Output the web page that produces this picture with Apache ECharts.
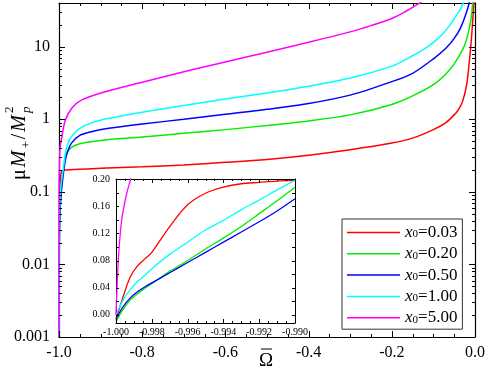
<!DOCTYPE html>
<html>
<head>
<meta charset="utf-8">
<script src="https://cdn.jsdelivr.net/npm/echarts@6/dist/echarts.min.js"></script>
<style>
  html, body { margin: 0; padding: 0; background: #fff; }
  #chart { width: 488px; height: 373px; }
</style>
</head>
<body>
<div id="chart"></div>
<script>
// main panel: Omega-bar vs mu*M+/Mp^2 (log scale)
const redW = [-1, -0.9996, -0.998, -0.996, -0.994, -0.99, -0.98, -0.95, -0.9, -0.8, -0.7, -0.6, -0.5, -0.4, -0.3, -0.2, -0.15, -0.1, -0.07, -0.05, -0.04, -0.03, -0.02, -0.014, -0.009, -0.005, -0.002]
const redV = [0.0005, 0.027, 0.092, 0.162, 0.188, 0.198, 0.2, 0.205, 0.212, 0.222, 0.235, 0.255, 0.28, 0.32, 0.38, 0.47, 0.55, 0.72, 0.9, 1.15, 1.35, 1.75, 3.0, 6, 12, 25, 45]

const greenW = [-1, -0.9996, -0.998, -0.995, -0.99, -0.985, -0.98, -0.97, -0.95, -0.9, -0.8, -0.7, -0.6, -0.5, -0.4, -0.3, -0.2, -0.15, -0.1, -0.07, -0.05, -0.035, -0.025, -0.018, -0.012, -0.008, -0.005]
const greenV = [0.0005, 0.008, 0.046, 0.097, 0.188, 0.29, 0.35, 0.41, 0.46, 0.51, 0.57, 0.64, 0.72, 0.82, 0.95, 1.15, 1.6, 2.1, 3.0, 4.2, 5.8, 8, 10.5, 14, 20, 28, 45]

const blueW = [-1, -0.9996, -0.998, -0.995, -0.99, -0.985, -0.98, -0.97, -0.95, -0.92, -0.88, -0.8, -0.7, -0.6, -0.5, -0.4, -0.3, -0.2, -0.15, -0.1, -0.07, -0.05, -0.035, -0.025, -0.018, -0.013]
const blueV = [0.0005, 0.012, 0.047, 0.092, 0.17, 0.27, 0.35, 0.47, 0.6, 0.68, 0.75, 0.86, 1.0, 1.17, 1.37, 1.65, 2.15, 3.3, 4.3, 6.8, 9.5, 13, 18, 25, 33, 42]

const cyanW = [-1, -0.9996, -0.998, -0.995, -0.99, -0.985, -0.98, -0.97, -0.95, -0.92, -0.88, -0.8, -0.7, -0.6, -0.5, -0.4, -0.3, -0.2, -0.15, -0.12, -0.1, -0.08, -0.06, -0.045, -0.035, -0.028, -0.022]
const cyanV = [0.0005, 0.02, 0.068, 0.125, 0.2, 0.33, 0.44, 0.58, 0.75, 0.9, 1.03, 1.25, 1.55, 1.9, 2.3, 2.85, 3.7, 5.4, 7.5, 9.5, 11.5, 14.5, 20, 27, 33, 40, 50]

const magentaW = [-1, -0.9999, -0.9994, -0.9976, -0.9935, -0.9855, -0.9694, -0.9453, -0.889, -0.8, -0.7, -0.6, -0.5, -0.4, -0.3, -0.25, -0.2, -0.165, -0.14, -0.12]
const magentaV = [0.0005, 0.08, 0.18, 0.4, 0.55, 0.95, 1.42, 1.85, 2.4, 3.24, 4.52, 6.17, 8.4, 11.5, 16, 19.5, 24.5, 31, 37.6, 45]

// inset: zoom on -1.000 .. -0.990 (linear)
const insetW = [-1.000, -0.9996, -0.9992, -0.9988, -0.9984, -0.998, -0.997, -0.996, -0.995, -0.994, -0.993, -0.992, -0.991, -0.990]
const insetRed = [-0.007, 0.027, 0.056, 0.072, 0.082, 0.092, 0.13, 0.162, 0.179, 0.188, 0.193, 0.195, 0.197, 0.198]
const insetGreen = [-0.010, 0.008, 0.022, 0.031, 0.039, 0.046, 0.064, 0.080, 0.097, 0.113, 0.130, 0.149, 0.168, 0.188]
const insetBlue = [-0.006, 0.012, 0.025, 0.034, 0.041, 0.047, 0.062, 0.077, 0.092, 0.107, 0.122, 0.137, 0.153, 0.171]
const insetCyan = [0.0, 0.022, 0.037, 0.049, 0.058, 0.068, 0.089, 0.107, 0.125, 0.139, 0.155, 0.169, 0.184, 0.198]
const insetMagentaW = [-1.0, -0.99987, -0.99968, -0.9994, -0.99918, -0.9990]
const insetMagentaV = [0.0, 0.081, 0.14, 0.179, 0.2, 0.22]

const names = ['x0=0.03', 'x0=0.20', 'x0=0.50', 'x0=1.00', 'x0=5.00']
const colors = ['#ff0000', '#00ee00', '#0000ff', '#00ffff', '#ff00ff']

const insetYLabels = [0, 0.04, 0.08, 0.12, 0.16, 0.2]

const serif = 'Liberation Serif'
const black = '#000'

// tick marks as [value, length]
const mainXTicks = []
for (let k = 0; k <= 20; k++) mainXTicks.push([-1 + k * 0.05, k % 4 ? 3 : 6])
const mainYTicks = []
for (let e = -3; e <= 1; e++) {
  for (let k = 1; k <= 9; k++) {
    const v = k * Math.pow(10, e)
    if (v < 39) mainYTicks.push([+v.toPrecision(3), k === 1 ? 6 : 3])
  }
}
const insetXTicks = []
for (let k = 0; k <= 20; k++) insetXTicks.push([-1 + k * 0.0005, k % 4 ? 2 : 4])
const insetYTicks = []
for (let k = 0; k <= 10; k++) insetYTicks.push([k * 0.02, 3])

const zip = (xs, ys) => xs.map((x, i) => [x, ys[i]])

const chart = echarts.init(document.getElementById('chart'))

function measure(str, size, style) {
  const ctx = document.createElement('canvas').getContext('2d')
  ctx.font = style + ' ' + size + 'px "' + serif + '"'
  return ctx.measureText(str).width
}

// y-axis title  mu M_+ / M_p^2, built piece by piece then rotated
const yParts = [
  { t: 'μ', size: 20, style: 'normal', dy: 0 },
  { t: 'M', size: 20, style: 'italic', dy: 0 },
  { t: '+', size: 13, style: 'normal', dy: 7 },
  { t: '/', size: 20, style: 'normal', dy: 0 },
  { t: 'M', size: 20, style: 'italic', dy: 0 },
  { t: 'p', size: 13, style: 'italic', dy: 7, stay: true },
  { t: '2', size: 13, style: 'normal', dy: -10 }
]
let cx = 0
const yTitle = []
yParts.forEach(p => {
  yTitle.push({
    type: 'text', x: cx, y: p.dy,
    style: { text: p.t, fontSize: p.size, fontStyle: p.style, fontFamily: serif, fill: black, align: 'left', verticalAlign: 'middle' }
  })
  if (!p.stay) cx += measure(p.t, p.size, p.style) + 2
})

function mainX(pos) {
  return {
    gridIndex: 0, type: 'value', min: -1, max: 0, interval: 0.2, position: pos,
    axisLine: { show: true, onZero: false, lineStyle: { color: black, width: 1.2 } },
    axisTick: { show: false },
    splitLine: { show: false },
    axisLabel: {
      show: pos === 'bottom', margin: 8, fontFamily: serif, fontSize: 16, color: black,
      formatter: v => Math.abs(v) < 1e-9 ? '0.0' : v.toFixed(1)
    }
  }
}
function mainYLog(pos) {
  return {
    gridIndex: 0, type: 'log', logBase: 10, min: 0.001, max: 40, position: pos,
    axisLine: { show: true, onZero: false, lineStyle: { color: black, width: 1.2 } },
    axisTick: { show: false },
    splitLine: { show: false },
    axisLabel: {
      show: pos === 'left', margin: 9, fontFamily: serif, fontSize: 16, color: black,
      showMaxLabel: false,
      formatter: v => String(+(+v).toPrecision(4))
    }
  }
}
function insetX(pos) {
  return {
    gridIndex: 1, type: 'value', min: -1, max: -0.99, interval: 0.002, position: pos,
    axisLine: { show: true, onZero: false, lineStyle: { color: black, width: 1 } },
    axisTick: { show: false },
    splitLine: { show: false },
    axisLabel: {
      show: pos === 'bottom', margin: 4, fontFamily: serif, fontSize: 10, color: black,
      formatter: v => v.toFixed(3)
    }
  }
}
function insetY(pos) {
  return {
    gridIndex: 1, type: 'value', min: -0.012, max: 0.2, position: pos,
    axisLine: { show: true, onZero: false, lineStyle: { color: black, width: 1 } },
    axisTick: { show: false },
    splitLine: { show: false },
    axisLabel: {
      show: pos === 'left', margin: 6, fontFamily: serif, fontSize: 10, color: black,
      customValues: insetYLabels,
      formatter: v => (+v).toFixed(2)
    }
  }
}

const mainData = [zip(redW, redV), zip(greenW, greenV), zip(blueW, blueV), zip(cyanW, cyanV), zip(magentaW, magentaV)]
const insetData = [zip(insetW, insetRed), zip(insetW, insetGreen), zip(insetW, insetBlue), zip(insetW, insetCyan), zip(insetMagentaW, insetMagentaV)]

const series = []
names.forEach((n, i) => {
  series.push({
    name: n, type: 'line', xAxisIndex: 0, yAxisIndex: 0, data: mainData[i],
    symbol: 'none', smooth: 0.3, color: colors[i],
    lineStyle: { color: colors[i], width: 1.5 }
  })
})
names.forEach((n, i) => {
  series.push({
    name: n, type: 'line', xAxisIndex: 2, yAxisIndex: 2, data: insetData[i],
    symbol: 'none', smooth: 0.3, color: colors[i],
    lineStyle: { color: colors[i], width: 1.3 }
  })
})

const titles = [
  { type: 'group', x: 20, y: 180, rotation: Math.PI / 2, children: yTitle },
  { type: 'text', x: 266, y: 361, style: { text: 'Ω', fontSize: 19, fontFamily: serif, fill: black, align: 'center', verticalAlign: 'middle' } },
  { type: 'line', shape: { x1: 261, y1: 349, x2: 272, y2: 349 }, style: { stroke: black, lineWidth: 1 } }
]

const option = {
  animation: false,
  backgroundColor: '#fff',
  grid: [
    { left: 59, top: 3, right: 13, bottom: 36 },
    { left: 116, top: 179, width: 179, height: 144 }
  ],
  xAxis: [mainX('bottom'), mainX('top'), insetX('bottom'), insetX('top')],
  yAxis: [mainYLog('left'), mainYLog('right'), insetY('left'), insetY('right')],
  legend: {
    orient: 'vertical', left: 342, top: 219,
    data: names, selectedMode: false,
    icon: 'rect', itemWidth: 53, itemHeight: 1.5, itemGap: 4.3,
    padding: [5, 5, 3, 5],
    borderColor: '#333', borderWidth: 1, backgroundColor: '#fff', borderRadius: 0,
    formatter: n => '{i|x}{s|0}{n|' + n.slice(2) + '}',
    textStyle: {
      color: black,
      rich: {
        i: { fontFamily: serif, fontStyle: 'italic', fontSize: 17, lineHeight: 15, verticalAlign: 'middle', color: black },
        s: { fontFamily: serif, fontSize: 11, lineHeight: 6, verticalAlign: 'bottom', color: black },
        n: { fontFamily: serif, fontSize: 17, lineHeight: 15, verticalAlign: 'middle', color: black }
      }
    }
  },
  graphic: titles,
  series: series
}

chart.setOption(option)

// inward tick marks, placed through the axes' own value-to-pixel conversion
const px = (xi, v) => chart.convertToPixel({ xAxisIndex: xi }, v)
const py = (yi, v) => chart.convertToPixel({ yAxisIndex: yi }, v)
const crisp = v => Math.round(v) + 0.5
const seg = (x1, y1, x2, y2) => ({ type: 'line', silent: true, z: 10, shape: { x1, y1, x2, y2 }, style: { stroke: black, lineWidth: 1 } })

const ticks = []
function xTicks(xi, yi, list, yLo, yHi) {
  const b = py(yi, yLo), t = py(yi, yHi)
  list.forEach(([v, len]) => {
    const x = crisp(px(xi, v))
    ticks.push(seg(x, b, x, b - len), seg(x, t, x, t + len))
  })
}
function yTicks(xi, yi, list, xLo, xHi) {
  const l = px(xi, xLo), r = px(xi, xHi)
  list.forEach(([v, len]) => {
    const y = crisp(py(yi, v))
    ticks.push(seg(l, y, l + len, y), seg(r, y, r - len, y))
  })
}
xTicks(0, 0, mainXTicks, 0.001, 40)
yTicks(0, 0, mainYTicks, -1, 0)
xTicks(2, 2, insetXTicks, -0.012, 0.2)
yTicks(2, 2, insetYTicks, -1, -0.99)

chart.setOption({ graphic: titles.concat(ticks) })
</script>
</body>
</html>
